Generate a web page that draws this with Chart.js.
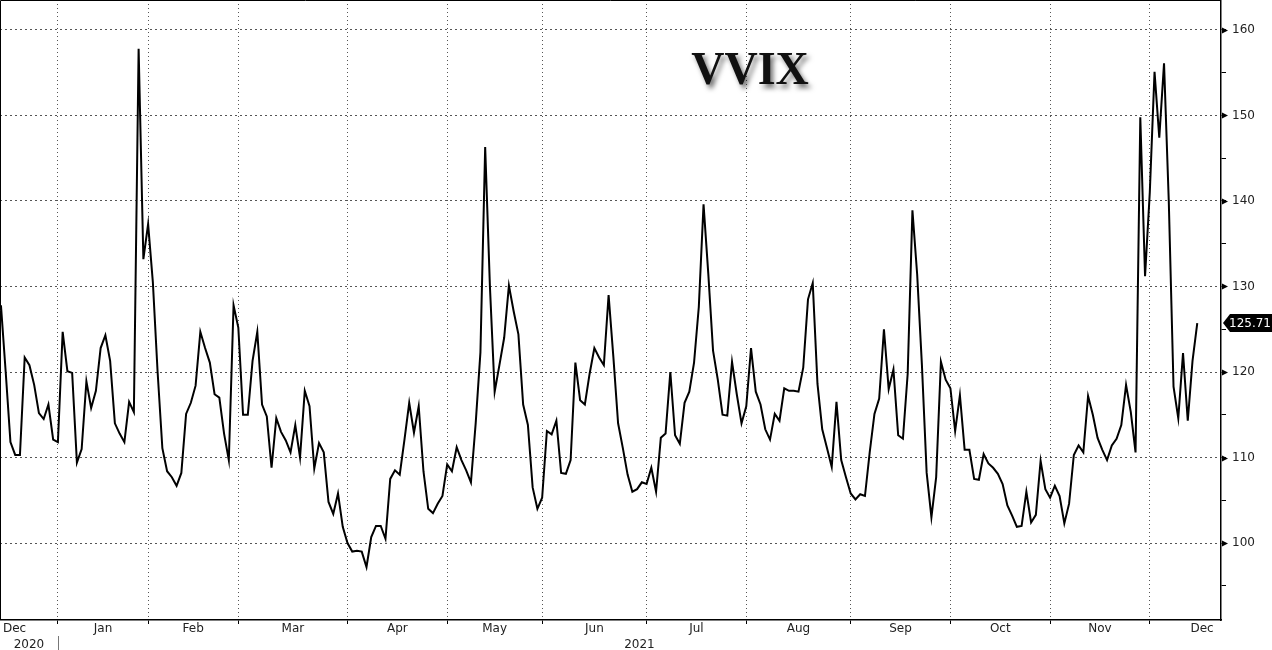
<!DOCTYPE html>
<html>
<head>
<meta charset="utf-8">
<script src="https://cdn.jsdelivr.net/npm/chart.js@4"></script>
<style>
  html, body { margin:0; padding:0; background:#fff; }
  #wrap { width:1272px; height:650px; }
</style>
</head>
<body>
<div id="wrap"><canvas id="c" width="1272" height="650"></canvas></div>
<script>
// VVIX daily close, one value per trading day, 15 Dec 2020 .. 15 Dec 2021
const vvix = [
  127.8, 120.0, 111.8, 110.3, 110.3, 121.7, 120.8, 118.5, 115.2, 114.5, 116.2, 112.1,             // Dec 2020
  111.8, 124.7, 120.1, 119.9, 109.4, 111.0, 118.9, 115.8, 117.8, 122.8, 124.3, 121.3, 114.0,
  112.8, 111.8, 116.5, 115.3, 157.8, 133.2,                                                       // Jan
  137.3, 130.5, 120.0, 111.1, 108.4, 107.7, 106.7, 108.2, 115.1, 116.4, 118.4, 124.7, 122.8,
  121.1, 117.4, 117.0, 112.8, 109.7, 127.8,                                                       // Feb
  125.2, 115.0, 115.0, 121.3, 124.7, 116.2, 114.8, 108.8, 114.6, 113.0, 112.0, 110.6, 113.8,
  110.0, 117.8, 116.0, 108.7, 111.7, 110.6, 104.8, 103.4, 105.8, 101.9,                           // Mar
  100.0, 99.0, 99.1, 99.0, 97.2, 100.7, 102.0, 102.0, 100.5, 107.5, 108.5, 108.0, 112.1,
  116.4, 112.9, 116.0, 108.4, 104.0, 103.5, 104.6, 105.5,                                         // Apr
  109.2, 108.4, 111.2, 109.7, 108.5, 107.1, 114.0, 122.3, 146.3, 130.0, 117.7, 120.8, 124.0,
  130.1, 127.1, 124.4, 116.2, 113.8, 106.5, 104.0,                                                // May
  105.3, 113.1, 112.7, 114.3, 108.2, 108.1, 109.7, 121.1, 116.7, 116.2, 119.8, 122.8, 121.7,
  120.8, 129.0, 121.8, 114.0, 111.1, 108.0, 106.0, 106.3, 107.1,                                  // Jun
  106.9, 108.8, 106.0, 112.3, 112.8, 120.0, 112.6, 111.6, 116.4, 117.7, 121.1, 127.6, 139.6,
  131.5, 122.5, 119.1, 115.0, 114.9, 121.2, 117.4, 114.0,                                         // Jul
  116.0, 122.8, 117.7, 116.2, 113.3, 112.1, 115.1, 114.3, 118.1, 117.8, 117.8, 117.7, 120.5,
  128.5, 130.4, 118.6, 113.3, 111.1, 108.9, 116.5, 109.7, 107.7,                                  // Aug
  105.8, 105.1, 105.7, 105.5, 110.6, 115.1, 116.9, 125.0, 118.0, 120.3, 112.6, 112.2, 119.8,
  138.9, 131.4, 120.8, 108.2, 103.0, 107.7, 121.2, 119.1,                                         // Sep
  118.1, 113.1, 117.3, 110.9, 110.9, 107.5, 107.4, 110.4, 109.3, 108.8, 108.1, 106.9, 104.4,
  103.2, 101.9, 102.0, 106.0, 102.4, 103.3, 109.6, 106.3,                                         // Oct
  105.3, 106.7, 105.5, 102.3, 104.6, 110.3, 111.4, 110.6, 117.2, 115.0, 112.3, 110.9, 109.7,
  111.4, 112.2, 113.8, 118.5, 115.3, 110.6, 149.8, 131.2,                                         // Nov
  141.0, 155.1, 147.4, 156.1, 140.0, 118.3, 114.6, 122.2, 114.3, 121.3, 125.71                    // Dec 2021
];

// trading-day index of the first session of each month (Dec 2020 .. Jan 2022)
const monthStarts = [-10, 12, 31, 50, 73, 94, 114, 136, 157, 179, 200, 221, 242, 264];
const monthNames  = ['Dec','Jan','Feb','Mar','Apr','May','Jun','Jul','Aug','Sep','Oct','Nov','Dec'];
const yearNames   = ['2020', '2021'];
const yearStarts  = [12];            // index where 2021 begins
const yTicks      = [95,100,105,110,115,120,125,130,135,140,145,150,155,160];

const xMin = -0.2, xMax = 257, yMin = 91, yMax = 163.5;
const txt = '#222';
const font = '"DejaVu Sans", Tahoma, sans-serif';

const points = vvix.map((v, i) => ({ x: i, y: v }));

const extras = {
  id: 'extras',
  afterDraw(chart) {
    const { ctx, chartArea: a, scales: { x, y } } = chart;
    ctx.save();

    // frame (top + left)
    ctx.strokeStyle = '#000';
    ctx.lineWidth = 1;
    ctx.beginPath();
    ctx.moveTo(a.left + 0.5, a.bottom);
    ctx.lineTo(a.left + 0.5, a.top + 0.5);
    ctx.lineTo(a.right, a.top + 0.5);
    ctx.stroke();

    // triangles on the major y ticks
    ctx.fillStyle = '#000';
    yTicks.filter(v => v % 10 === 0).forEach(v => {
      const py = Math.round(y.getPixelForValue(v)) + 0.5;
      ctx.beginPath();
      ctx.moveTo(a.right + 1, py - 3);
      ctx.lineTo(a.right + 7, py);
      ctx.lineTo(a.right + 1, py + 3);
      ctx.closePath();
      ctx.fill();
    });

    // month labels, centred on each month
    ctx.font = '12px ' + font;
    ctx.fillStyle = txt;
    ctx.textBaseline = 'middle';
    ctx.textAlign = 'center';
    monthNames.forEach((m, i) => {
      const mid = (monthStarts[i] + monthStarts[i + 1]) / 2;
      const w = ctx.measureText(m).width;
      let px = x.getPixelForValue(mid);
      px = Math.max(a.left + 3 + w / 2, Math.min(a.right - 5 - w / 2, px));
      ctx.fillText(m, px, a.bottom + 9);
    });

    // year row
    const bounds = [xMin, ...yearStarts, xMax];
    yearNames.forEach((yr, i) => {
      const px = x.getPixelForValue((bounds[i] + bounds[i + 1]) / 2);
      ctx.fillText(yr, px, a.bottom + 25);
    });
    ctx.strokeStyle = '#777';
    yearStarts.forEach(s => {
      const px = Math.round(x.getPixelForValue(s)) + 0.5;
      ctx.beginPath();
      ctx.moveTo(px, a.bottom + 16);
      ctx.lineTo(px, chart.height);
      ctx.stroke();
    });

    // last value tag
    const last = vvix[vvix.length - 1];
    const ly = Math.round(y.getPixelForValue(last));
    ctx.fillStyle = '#000';
    ctx.beginPath();
    ctx.moveTo(a.right + 2, ly);
    ctx.lineTo(a.right + 9, ly - 9);
    ctx.lineTo(chart.width, ly - 9);
    ctx.lineTo(chart.width, ly + 9);
    ctx.lineTo(a.right + 9, ly + 9);
    ctx.closePath();
    ctx.fill();
    ctx.fillStyle = '#fff';
    ctx.textAlign = 'left';
    ctx.font = '12px ' + font;
    ctx.fillText(last.toFixed(2), a.right + 8, ly + 1);

    // title
    ctx.font = 'bold 46px "Liberation Serif", "Times New Roman", serif';
    ctx.textAlign = 'center';
    ctx.fillStyle = '#111';
    ctx.shadowColor = 'rgba(0,0,0,0.55)';
    ctx.shadowBlur = 5;
    ctx.shadowOffsetX = 3;
    ctx.shadowOffsetY = 4;
    ctx.fillText('VVIX', 750, 72);

    ctx.restore();
  }
};

new Chart(document.getElementById('c'), {
  type: 'line',
  data: {
    datasets: [{
      data: points,
      borderColor: '#000',
      borderWidth: 2,
      pointRadius: 0,
      tension: 0,
      fill: false
    }]
  },
  options: {
    responsive: false,
    animation: false,
    events: [],
    layout: { padding: { left: 0, top: 0, right: 0, bottom: 26 } },
    plugins: { legend: { display: false }, tooltip: { enabled: false } },
    scales: {
      x: {
        type: 'linear',
        min: xMin,
        max: xMax,
        afterBuildTicks: s => { s.ticks = monthStarts.filter(v => v > xMin && v < xMax).map(v => ({ value: v })); },
        afterFit: s => { s.paddingLeft = 0; s.paddingRight = 0; },
        ticks: { display: false },
        grid: { color: '#555', lineWidth: 1, tickLength: 4, tickColor: '#000' },
        border: { color: '#000', width: 1.5, dash: [1, 3] }
      },
      y: {
        position: 'right',
        min: yMin,
        max: yMax,
        afterBuildTicks: s => { s.ticks = yTicks.map(v => ({ value: v })); },
        afterFit: s => { s.width = 51; s.paddingTop = 0; s.paddingBottom = 0; },
        ticks: {
          color: txt,
          font: { family: font, size: 12 },
          padding: 6,
          callback: v => (v % 10 === 0 ? v : '')
        },
        grid: {
          color: c => (c.tick && c.tick.value % 10 === 0 ? '#555' : 'rgba(0,0,0,0)'),
          tickColor: '#000',
          tickLength: 5,
          lineWidth: 1
        },
        border: { color: '#000', width: 1.5, dash: [2, 3] }
      }
    }
  },
  plugins: [extras]
});
</script>
</body>
</html>
